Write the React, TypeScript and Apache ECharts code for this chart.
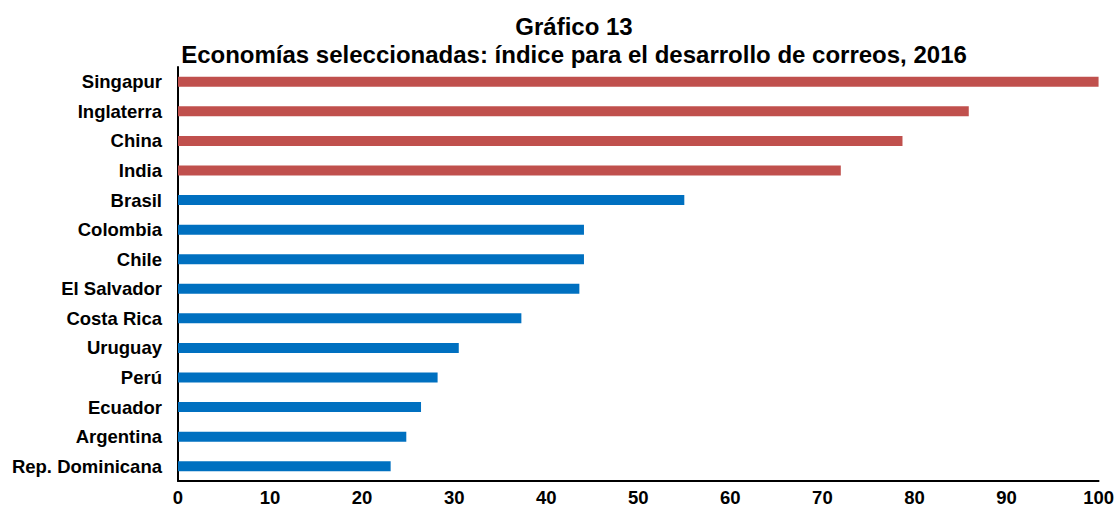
import React, { useEffect, useRef } from "react";
import * as echarts from "echarts";

const categories = [
  "Singapur", "Inglaterra", "China", "India", "Brasil", "Colombia", "Chile",
  "El Salvador", "Costa Rica", "Uruguay", "Perú", "Ecuador", "Argentina", "Rep. Dominicana",
];
const values = [100, 85.9, 78.7, 72.0, 55.0, 44.1, 44.1, 43.6, 37.3, 30.5, 28.2, 26.4, 24.8, 23.1];
const highlighted = ["Singapur", "Inglaterra", "China", "India"];
const xTicks = [0, 10, 20, 30, 40, 50, 60, 70, 80, 90, 100];

const RED = "#C0504D";
const BLUE = "#0070C0";
const FONT = "'Liberation Sans', Arial, sans-serif";

export default function App() {
  const ref = useRef<HTMLDivElement>(null);
  useEffect(() => {
    document.body.style.margin = "0";
    const chart = echarts.init(ref.current!, undefined, { renderer: "svg" });
    const cats = [...categories].reverse();
    const vals = [...values].reverse();
    chart.setOption({
      animation: false,
      title: [
        {
          text: "Gráfico 13",
          left: 569,
          textAlign: "center",
          top: 9,
          textStyle: { fontFamily: FONT, fontWeight: "bold", fontSize: 24, color: "#000" },
        },
        {
          text: "Economías seleccionadas: índice para el desarrollo de correos, 2016",
          left: 569,
          textAlign: "center",
          top: 37,
          textStyle: { fontFamily: FONT, fontWeight: "bold", fontSize: 24, color: "#000" },
        },
      ],
      grid: { left: 178, right: 17, top: 67, bottom: 29, containLabel: false },
      xAxis: {
        type: "value",
        min: xTicks[0],
        max: xTicks[xTicks.length - 1],
        interval: 10,
        axisLine: { show: true, lineStyle: { color: "#000", width: 2 } },
        axisTick: { show: false },
        splitLine: { show: false },
        axisLabel: {
          fontFamily: FONT,
          fontWeight: "bold",
          fontSize: 18.5,
          color: "#000",
          margin: 7,
        },
      },
      yAxis: {
        type: "category",
        data: cats,
        axisLine: { show: true, onZero: false, lineStyle: { color: "#000", width: 2 } },
        axisTick: { show: false },
        axisLabel: {
          fontFamily: FONT,
          fontWeight: "bold",
          fontSize: 18.5,
          color: "#000",
          margin: 16,
        },
      },
      series: [
        {
          type: "bar",
          barWidth: 10,
          data: vals.map((v, i) => ({
            value: v,
            itemStyle: { color: highlighted.includes(cats[i]) ? RED : BLUE },
          })),
        },
      ],
    });
    return () => chart.dispose();
  }, []);
  return <div ref={ref} style={{ width: 1117, height: 510 }} />;
}
